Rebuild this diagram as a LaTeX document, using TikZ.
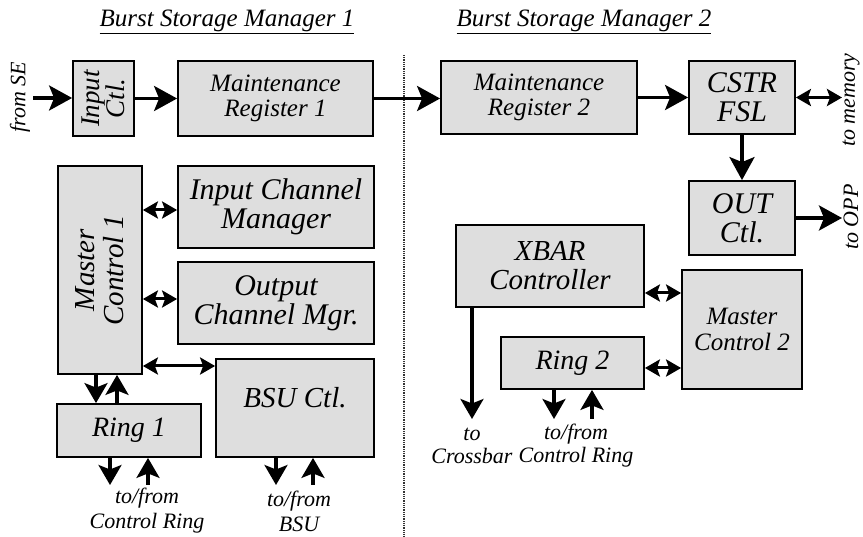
\documentclass[tikz,border=0pt]{standalone}
\usepackage{fontspec}
\setmainfont{Liberation Serif}
\usetikzlibrary{arrows.meta}
\begin{document}
\begin{tikzpicture}[x=1pt,y=-1pt,
  box/.style={draw=black,line width=1.8pt,fill=black!13,inner sep=0pt},
  txt/.style={align=center,inner sep=0pt},
  lab/.style={align=center,inner sep=0pt,font=\fontsize{22}{23}\selectfont\itshape},
  big/.style={line width=3.4pt,-{Stealth[length=23pt,width=25pt,inset=5pt]}},
  mid/.style={line width=3.2pt,-{Stealth[length=20pt,width=23pt,inset=4.5pt]}},
  dbl/.style={line width=3pt,{Stealth[length=15pt,width=17pt,inset=3pt]}-{Stealth[length=15pt,width=17pt,inset=3pt]}}
]
\useasboundingbox (0,0) rectangle (863,537);

% titles
\node[txt,font=\fontsize{25}{26}\selectfont\itshape] (t1) at (227,22) {\underline{Burst Storage Manager 1}};
\node[txt,font=\fontsize{25}{26}\selectfont\itshape] (t2) at (584,22) {\underline{Burst Storage Manager 2}};

% divider
\coordinate (d1) at (404,55);
\coordinate (d2) at (404,537);
\draw[line width=1.4pt,black!80,dash pattern=on 1pt off 0.8pt] (d1) -- (d2);

% boxes left
\node[box,minimum width=61pt,minimum height=75pt] (inctl) at (103.5,98.5) {};
\node[txt,rotate=90,font=\fontsize{27}{21}\selectfont\itshape] (inctltxt) at (inctl.center) {Input\\Ctl.};
\node[box,minimum width=195pt,minimum height=75pt] (mr1) at (275.5,98.5) {};
\node[txt,font=\fontsize{25}{25}\selectfont\itshape] (mr1txt) at (mr1.center) {Maintenance\\Register 1};
\node[box,minimum width=84pt,minimum height=208pt] (mc1) at (100,270) {};
\node[txt,rotate=90,font=\fontsize{29}{29}\selectfont\itshape] (mc1txt) at (mc1.center) {Master\\Control 1};
\node[box,minimum width=196pt,minimum height=82pt] (icm) at (276,207) {};
\node[txt,font=\fontsize{30}{29}\selectfont\itshape] (icmtxt) at (icm.center) {Input Channel\\Manager};
\node[box,minimum width=196pt,minimum height=82pt] (ocm) at (276,303) {};
\node[txt,font=\fontsize{30}{29}\selectfont\itshape] (ocmtxt) at (ocm.center) {Output\\Channel Mgr.};
\node[box,minimum width=158pt,minimum height=98pt] (bsu) at (295,408) {};
\node[txt,font=\fontsize{29}{29}\selectfont\itshape] (bsutxt) at (295,398) {BSU Ctl.};
\node[box,minimum width=144pt,minimum height=53pt] (ring1) at (129,430.5) {};
\node[txt,font=\fontsize{28}{28}\selectfont\itshape] (ring1txt) at (ring1.center) {Ring 1};

% boxes right
\node[box,minimum width=196pt,minimum height=73pt] (mr2) at (539,97.5) {};
\node[txt,font=\fontsize{25}{25}\selectfont\itshape] (mr2txt) at (mr2.center) {Maintenance\\Register 2};
\node[box,minimum width=106pt,minimum height=73pt] (cstr) at (742,97.5) {};
\node[txt,font=\fontsize{30}{29}\selectfont\itshape] (cstrtxt) at (cstr.center) {CSTR\\FSL};
\node[box,minimum width=106pt,minimum height=74pt] (outctl) at (742,218) {};
\node[txt,font=\fontsize{30}{29}\selectfont\itshape] (outctltxt) at (outctl.center) {OUT\\Ctl.};
\node[box,minimum width=188pt,minimum height=82pt] (xbar) at (550,266) {};
\node[txt,font=\fontsize{29}{29}\selectfont\itshape] (xbartxt) at (xbar.center) {XBAR\\Controller};
\node[box,minimum width=120pt,minimum height=119pt] (mc2) at (742,329.5) {};
\node[txt,font=\fontsize{25}{26}\selectfont\itshape] (mc2txt) at (mc2.center) {Master\\Control 2};
\node[box,minimum width=143pt,minimum height=52pt] (ring2) at (572.5,363) {};
\node[txt,font=\fontsize{28}{28}\selectfont\itshape] (ring2txt) at (ring2.center) {Ring 2};

% helper coordinates
\coordinate (se) at (33,98);
\coordinate (mem) at (842,97.5);
\coordinate (opp) at (842,218);
\coordinate (h1) at (0,293);
\coordinate (h2) at (0,368);
\coordinate (h3) at (0,210);
\coordinate (h4) at (0,299);
\coordinate (h5) at (0,366);
\coordinate (xb) at (472,419);
\coordinate (r2d) at (554,419);
\coordinate (r2u) at (592,419);
\coordinate (r1d) at (110,485);
\coordinate (r1u) at (148,485);
\coordinate (bd) at (276,485);
\coordinate (bu) at (313,485);
\coordinate (mcd) at (96,0);
\coordinate (mcu) at (117,0);

% connectors top row
\draw[big] (se) -- (se -| inctl.west);
\draw[big] (inctl.east |- mr1.west) -- (mr1.west);
\draw[big] (mr1.east) -- (mr2.west |- mr1.east);
\draw[big] (mr2.east) -- (cstr.west);
\draw[dbl] (cstr.east) -- (mem);
\draw[big] (cstr.south) -- (outctl.north);
\draw[big] (outctl.east) -- (opp);

% right side
\draw[dbl] (xbar.east |- h1) -- (mc2.west |- h1);
\draw[dbl] (ring2.east |- h2) -- (mc2.west |- h2);
\draw[mid] (xb |- xbar.south) -- (xb);
\draw[mid] (r2d |- ring2.south) -- (r2d);
\draw[mid] (r2u) -- (r2u |- ring2.south);

% left side
\draw[dbl] (mc1.east |- h3) -- (icm.west |- h3);
\draw[dbl] (mc1.east |- h4) -- (ocm.west |- h4);
\draw[dbl] (mc1.east |- h5) -- (bsu.west |- h5);
\draw[mid] (mcd |- mc1.south) -- (mcd |- ring1.north);
\draw[mid] (mcu |- ring1.north) -- (mcu |- mc1.south);
\draw[mid] (r1d |- ring1.south) -- (r1d);
\draw[mid] (r1u) -- (r1u |- ring1.south);
\draw[mid] (bd |- bsu.south) -- (bd);
\draw[mid] (bu) -- (bu |- bsu.south);

% labels
\node[lab,rotate=90] (fromse) at (20,97) {from SE};
\node[lab,rotate=90] (tomem) at (851,100) {to memory};
\node[lab,rotate=90] (toopp) at (851,217) {to OPP};
\node[lab,font=\fontsize{22}{23}\selectfont\itshape] (tocross) at (472,446) {to\\Crossbar};
\node[lab,font=\fontsize{22}{23}\selectfont\itshape] (ctl2) at (576,446) {to/from\\Control Ring};
\node[lab,font=\fontsize{22}{25}\selectfont\itshape] (ctl1) at (147,511) {to/from\\Control Ring};
\node[lab,font=\fontsize{22}{25}\selectfont\itshape] (tobsu) at (299,511) {to/from\\BSU};
\end{tikzpicture}
\end{document}
